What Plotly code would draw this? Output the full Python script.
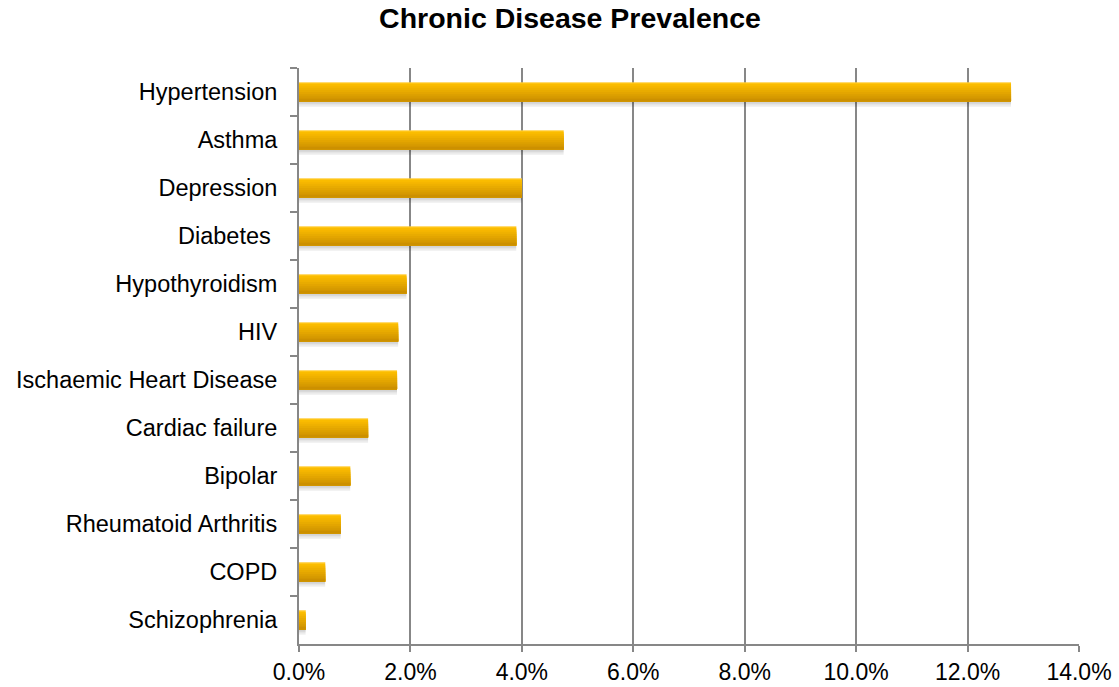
import plotly.graph_objects as go

# Chronic disease prevalence (% of population), top to bottom
conditions = [
    "Hypertension", "Asthma", "Depression", "Diabetes\u00a0", "Hypothyroidism",
    "HIV", "Ischaemic Heart Disease", "Cardiac failure", "Bipolar",
    "Rheumatoid Arthritis", "COPD", "Schizophrenia",
]
prevalence = [12.78, 4.75, 4.00, 3.90, 1.93, 1.78, 1.76, 1.24, 0.92, 0.75, 0.47, 0.12]
x_ticks = [0, 2, 4, 6, 8, 10, 12, 14]
x_tick_labels = ["0.0%", "2.0%", "4.0%", "6.0%", "8.0%", "10.0%", "12.0%", "14.0%"]

BAR_W = 0.40
GREY = "#878787"
FONT = "Liberation Sans, Arial, sans-serif"

fig = go.Figure()

# soft drop shadow under each bar
for dy in [0.02, 0.05, 0.08, 0.11]:
    fig.add_trace(go.Bar(
        y=conditions, x=prevalence, orientation="h",
        width=BAR_W, offset=-BAR_W / 2 + dy,
        marker=dict(color="rgba(0,0,0,0.05)", line=dict(width=0)),
        hoverinfo="skip", showlegend=False,
    ))

# vertical gradient fill: each layer covers a smaller lower part of the bar
top = (255, 192, 0)
bottom = (204, 144, 0)
N = 10
for k in range(N):
    t = k / (N - 1)
    r = round(top[0] + (bottom[0] - top[0]) * t)
    g = round(top[1] + (bottom[1] - top[1]) * t)
    b = round(top[2] + (bottom[2] - top[2]) * t)
    cut = BAR_W * k / N
    fig.add_trace(go.Bar(
        y=conditions, x=prevalence, orientation="h",
        width=BAR_W - cut, offset=-BAR_W / 2 + cut,
        marker=dict(color=f"rgb({r},{g},{b})", line=dict(width=0)),
        hoverinfo="skip", showlegend=False,
    ))

# thin light highlight along the top edge
fig.add_trace(go.Bar(
    y=conditions, x=prevalence, orientation="h",
    width=0.02, offset=-BAR_W / 2,
    marker=dict(color="rgba(255,215,100,0.9)", line=dict(width=0)),
    hoverinfo="skip", showlegend=False,
))

fig.update_layout(
    width=1119, height=687,
    barmode="overlay",
    plot_bgcolor="white", paper_bgcolor="white",
    margin=dict(l=299, r=40, t=68, b=43, autoexpand=False),
    title=dict(
        text="<b>Chronic Disease Prevalence</b>",
        x=570 / 1119, xanchor="center", xref="container",
        y=1 - 18 / 687, yanchor="middle", yref="container",
        font=dict(family=FONT, size=28.5, color="black"),
    ),
    xaxis=dict(
        range=[0, 14], tickmode="array", tickvals=x_ticks, ticktext=x_tick_labels,
        showgrid=True, gridcolor=GREY, gridwidth=2,
        zeroline=False,
        showline=True, linecolor=GREY, linewidth=2,
        ticks="outside", ticklen=6, tickwidth=2, tickcolor=GREY,
        tickfont=dict(family=FONT, size=23, color="black"),
        automargin=False,
        fixedrange=True,
    ),
    yaxis=dict(
        categoryorder="array", categoryarray=conditions, autorange="reversed",
        showgrid=False, zeroline=False,
        showline=True, linecolor=GREY, linewidth=2,
        ticks="outside", tickson="boundaries", ticklen=7, tickwidth=2, tickcolor=GREY,
        tickfont=dict(family=FONT, size=23.5, color="black"),
        ticklabelstandoff=15,
        automargin=False,
        fixedrange=True,
    ),
)

fig.write_html("out.html")
